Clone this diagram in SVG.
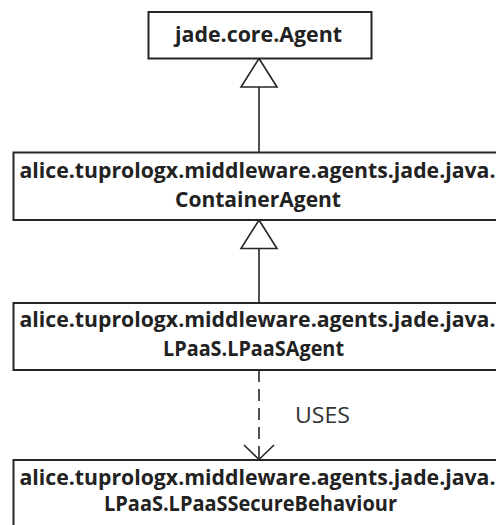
<svg xmlns="http://www.w3.org/2000/svg" width="496" height="525" viewBox="0 0 496 525">
<style>
.box{fill:#fff;stroke:#262626;stroke-width:2}
.t{font-family:"Open Sans","Liberation Sans",sans-serif;font-weight:700;font-size:20.5px;fill:#222}
.lbl{font-family:"Open Sans","Liberation Sans",sans-serif;font-weight:400;font-size:21px;fill:#333}
.ln{fill:none;stroke:#262626;stroke-width:1.6}
.tri{fill:#fff;stroke:#262626;stroke-width:1.6}
</style>
<rect width="496" height="525" fill="#fff"/>
<g id="connectors">
  <line class="ln" x1="259" y1="87" x2="259" y2="152"/>
  <polygon class="tri" points="259,58.5 277,87 241,87"/>
  <line class="ln" x1="259" y1="248.5" x2="259" y2="303"/>
  <polygon class="tri" points="259,220 277,248.5 241,248.5"/>
  <line class="ln" x1="259" y1="370" x2="259" y2="459" stroke-dasharray="12 7"/>
  <polyline class="ln" points="244,445 259,459.5 274,445"/>
  <text class="lbl" x="295" y="423" textLength="55" lengthAdjust="spacingAndGlyphs">USES</text>
</g>
<g id="agent">
  <rect class="box" x="148.5" y="12" width="223" height="46.5"/>
  <text class="t" x="175" y="42" textLength="167" lengthAdjust="spacingAndGlyphs">jade.core.Agent</text>
</g>
<g id="containerAgent">
  <rect class="box" x="13.5" y="152.5" width="500" height="67.5"/>
  <text class="t" x="19.5" y="178" textLength="476" lengthAdjust="spacingAndGlyphs">alice.tuprologx.middleware.agents.jade.java.</text>
  <text class="t" x="175" y="207" textLength="166" lengthAdjust="spacingAndGlyphs">ContainerAgent</text>
</g>
<g id="lpaasAgent">
  <rect class="box" x="13.5" y="303" width="500" height="67"/>
  <text class="t" x="19.5" y="326.5" textLength="476" lengthAdjust="spacingAndGlyphs">alice.tuprologx.middleware.agents.jade.java.</text>
  <text class="t" x="163" y="355.5" textLength="181" lengthAdjust="spacingAndGlyphs">LPaaS.LPaaSAgent</text>
</g>
<g id="lpaasSecureBehaviour">
  <rect class="box" x="13.5" y="460" width="500" height="80"/>
  <text class="t" x="19.5" y="485" textLength="476" lengthAdjust="spacingAndGlyphs">alice.tuprologx.middleware.agents.jade.java.</text>
  <text class="t" x="104" y="511" textLength="293" lengthAdjust="spacingAndGlyphs">LPaaS.LPaaSSecureBehaviour</text>
</g>
</svg>
